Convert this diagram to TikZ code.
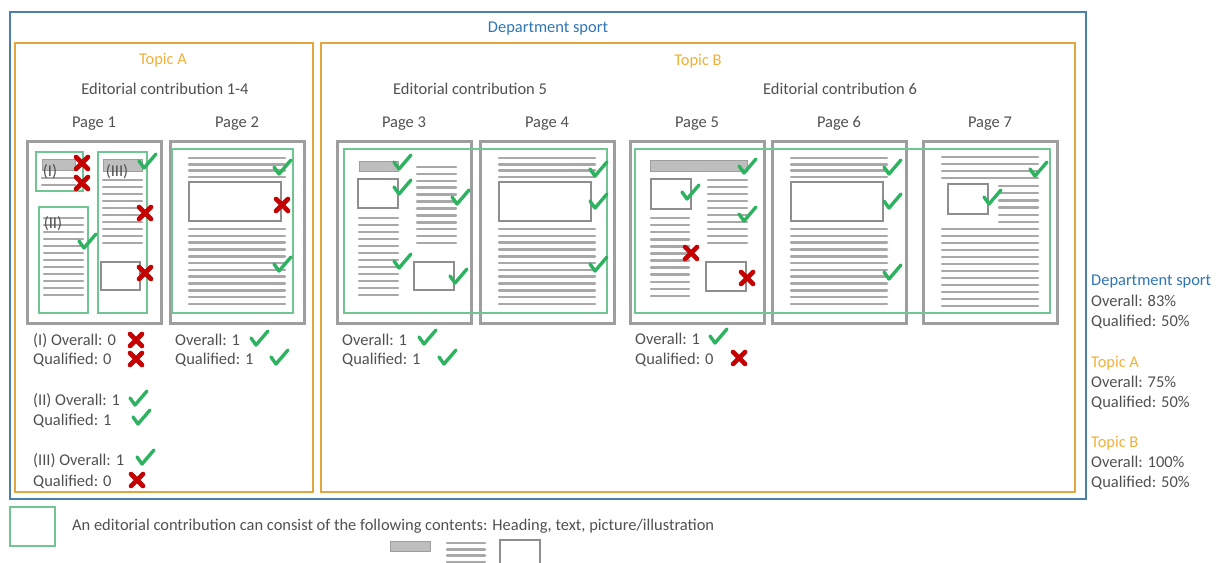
\documentclass[tikz,border=0pt]{standalone}
\usepackage{fontspec}
\setmainfont{Carlito}
\usetikzlibrary{positioning}
\definecolor{dsblue}{HTML}{2E75B6}
\definecolor{dsframe}{HTML}{4A7FB0}
\definecolor{tpframe}{HTML}{E2A640}
\definecolor{tptext}{HTML}{EFB13A}
\definecolor{pggray}{HTML}{9E9E9E}
\definecolor{lngray}{HTML}{A8A8A8}
\definecolor{ecgreen}{HTML}{70C592}
\definecolor{okgreen}{HTML}{2DB360}
\definecolor{nokred}{HTML}{C40000}
\definecolor{txtgray}{HTML}{505050}
\tikzstyle{pagebox}=[draw=pggray,line width=3bp]
\tikzstyle{contrib}=[draw=ecgreen,line width=2bp]
\tikzstyle{txtline}=[draw=lngray,line width=2.5bp,line cap=round]
\tikzstyle{headbar}=[draw=pggray,fill=lngray!75,line width=1bp]
\tikzstyle{picbox}=[draw=pggray!90!black,fill=white,line width=2.2bp]
\tikzstyle{lbl}=[text=txtgray,font=\fontsize{16.5}{19}\selectfont,inner sep=0pt,
  text height=11bp,text depth=1bp]
\tikzset{
  ok/.pic={\draw[okgreen,line width=3.4bp,line cap=round,line join=round]
    (-8,-1) -- (-3,6) -- (9,-8);},
  nok/.pic={\draw[nokred,line width=4.6bp,line cap=round]
    (-6,-6) -- (6,6) (-6,6) -- (6,-6);}
}
% n text lines from x1 to x2, first at y1, last at y2
\newcommand{\txtlines}[5]{%
  \foreach \k in {0,...,\numexpr#5-1\relax} {%
    \pgfmathsetmacro\yy{#3+(#4-#3)*\k/(#5-1)}
    \draw[txtline] (#1,\yy) -- (#2,\yy);}}

\begin{document}
\begin{tikzpicture}[x=1bp,y=-1bp]
  \useasboundingbox (0,0) rectangle (1219,563);

  % department and topics
  \draw[dsframe,line width=1.6bp] (10,12) rectangle (1086,499);
  \node[lbl,text=dsblue] (dept) at (548,28) {Department sport};
  \draw[tpframe,line width=2bp] (15,43) rectangle (313,492);
  \draw[tpframe,line width=2bp] (321,43) rectangle (1075,492);
  \node[lbl,text=tptext] (topA) at (163,60) {Topic A};
  \node[lbl,text=tptext] (topB) at (698,61) {Topic B};
  \node[lbl] (ec14) at (165,90) {Editorial contribution 1-4};
  \node[lbl] (ec5) at (470,90) {Editorial contribution 5};
  \node[lbl] (ec6) at (840,90) {Editorial contribution 6};

  % page frames and titles
  \foreach \x/\n in {27/1,170/2,337/3,480/4,630/5,772/6,923/7} {
    \draw[pagebox] (\x,142) rectangle ++(134,181);
    \node[lbl] (pg\n) at (\x+67,123) {Page \n};
  }

  % page 1
  \begin{scope}[shift={(27,142)}]
    \draw[headbar] (15,18) rectangle (48,29);
    \txtlines{15}{48}{36}{43}{2}
    \draw[headbar] (76,18) rectangle (115,30);
    \txtlines{76}{115}{38}{101}{10}
    \draw[picbox] (74,120) rectangle (113,148);
    \txtlines{17}{56}{76}{153}{12}
  \end{scope}
  \node[lbl] (lI) at (50,172) {(I)};
  \node[lbl] (lIII) at (117,172) {(III)};
  \node[lbl] (lII) at (53,224) {(II)};

  % pages 2, 4 and 6
  \foreach \x in {170,480,772} {
    \begin{scope}[shift={(\x,142)}]
      \txtlines{19}{115}{16}{35}{4}
      \draw[picbox] (19,40) rectangle (111,79);
      \txtlines{19}{115}{87}{162}{12}
    \end{scope}
  }

  % page 3
  \begin{scope}[shift={(337,142)}]
    \draw[headbar] (22,20) rectangle (61,30);
    \draw[picbox] (21,37) rectangle (61,66);
    \txtlines{22}{61}{76}{153}{12}
    \txtlines{80}{119}{25}{101}{12}
    \draw[picbox] (77,120) rectangle (117,148);
  \end{scope}

  % page 5
  \begin{scope}[shift={(630,142)}]
    \draw[headbar] (20,19) rectangle (117,30);
    \draw[picbox] (21,37) rectangle (61,67);
    \txtlines{78}{117}{38}{101}{10}
    \txtlines{21}{59}{76}{154}{12}
    \draw[picbox] (76,120) rectangle (116,149);
  \end{scope}

  % page 7
  \begin{scope}[shift={(923,142)}]
    \txtlines{19}{115}{15}{36}{4}
    \draw[picbox] (25,42) rectangle (65,72);
    \txtlines{76}{115}{44}{80}{6}
    \txtlines{19}{115}{87}{164}{12}
  \end{scope}

  % editorial contributions
  \draw[contrib] (36,152) rectangle (83,191);
  \draw[contrib] (98,152) rectangle (147,313);
  \draw[contrib] (39,207) rectangle (88,313);
  \draw[contrib] (172,149) rectangle (293,313);
  \draw[contrib] (344,149) rectangle (607,313);
  \draw[contrib] (635,149) rectangle (1050,313);

  % marks on the pages
  \foreach \p in {(147,162),(87,242),(282,168),(282,265),
                  (402,163),(402,188),(460,198),(402,262),(458,277),
                  (598,170),(598,202),(598,265),
                  (747,167),(690,193),(747,215),
                  (892,168),(892,202),(892,273),
                  (1038,170),(992,198)}
    \pic at \p {ok};
  \foreach \p in {(82,163),(82,183),(145,213),(145,273),(282,205),
                  (691,253),(747,278)}
    \pic at \p {nok};

  % results per contribution
  \node[lbl,anchor=west] (r1a) at (33,340) {(I) Overall: 0};
  \node[lbl,anchor=west] (r1b) at (33,359) {Qualified: 0};
  \node[lbl,anchor=west] (r2a) at (33,400) {(II) Overall: 1};
  \node[lbl,anchor=west] (r2b) at (33,420) {Qualified: 1};
  \node[lbl,anchor=west] (r3a) at (33,460) {(III) Overall: 1};
  \node[lbl,anchor=west] (r3b) at (33,481) {Qualified: 0};
  \node[lbl,anchor=west] (r4a) at (175,340) {Overall: 1};
  \node[lbl,anchor=west] (r4b) at (175,359) {Qualified: 1};
  \node[lbl,anchor=west] (r5a) at (342,340) {Overall: 1};
  \node[lbl,anchor=west] (r5b) at (342,359) {Qualified: 1};
  \node[lbl,anchor=west] (r6a) at (635,339) {Overall: 1};
  \node[lbl,anchor=west] (r6b) at (635,359) {Qualified: 0};
  \foreach \p in {(138,399),(141,418),(145,458),(259,339),(279,358),
                  (427,338),(447,358),(718,337)}
    \pic at \p {ok};
  \foreach \p in {(136,340),(136,359),(137,480),(739,358)}
    \pic at \p {nok};

  % summary
  \node[lbl,anchor=west,text=dsblue] (sdept) at (1091,281) {Department sport};
  \node[lbl,anchor=west] (sdo) at (1091,302) {Overall: 83\%};
  \node[lbl,anchor=west] (sdq) at (1091,322) {Qualified: 50\%};
  \node[lbl,anchor=west,text=tptext] (sa) at (1091,362) {Topic A};
  \node[lbl,anchor=west] (sao) at (1091,382) {Overall: 75\%};
  \node[lbl,anchor=west] (saq) at (1091,402) {Qualified: 50\%};
  \node[lbl,anchor=west,text=tptext] (sb) at (1091,442) {Topic B};
  \node[lbl,anchor=west] (sbo) at (1091,462) {Overall: 100\%};
  \node[lbl,anchor=west] (sbq) at (1091,482) {Qualified: 50\%};

  % legend
  \draw[contrib] (10,507) rectangle (55,546);
  \node[lbl,anchor=west] (leg) at (72,525)
    {An editorial contribution can consist of the following contents: Heading, text, picture/illustration};
  \draw[headbar] (390,541) rectangle (430,551);
  \txtlines{447}{485}{543}{562}{4}
  \draw[picbox] (500,540) rectangle (540,570);
\end{tikzpicture}
\end{document}
